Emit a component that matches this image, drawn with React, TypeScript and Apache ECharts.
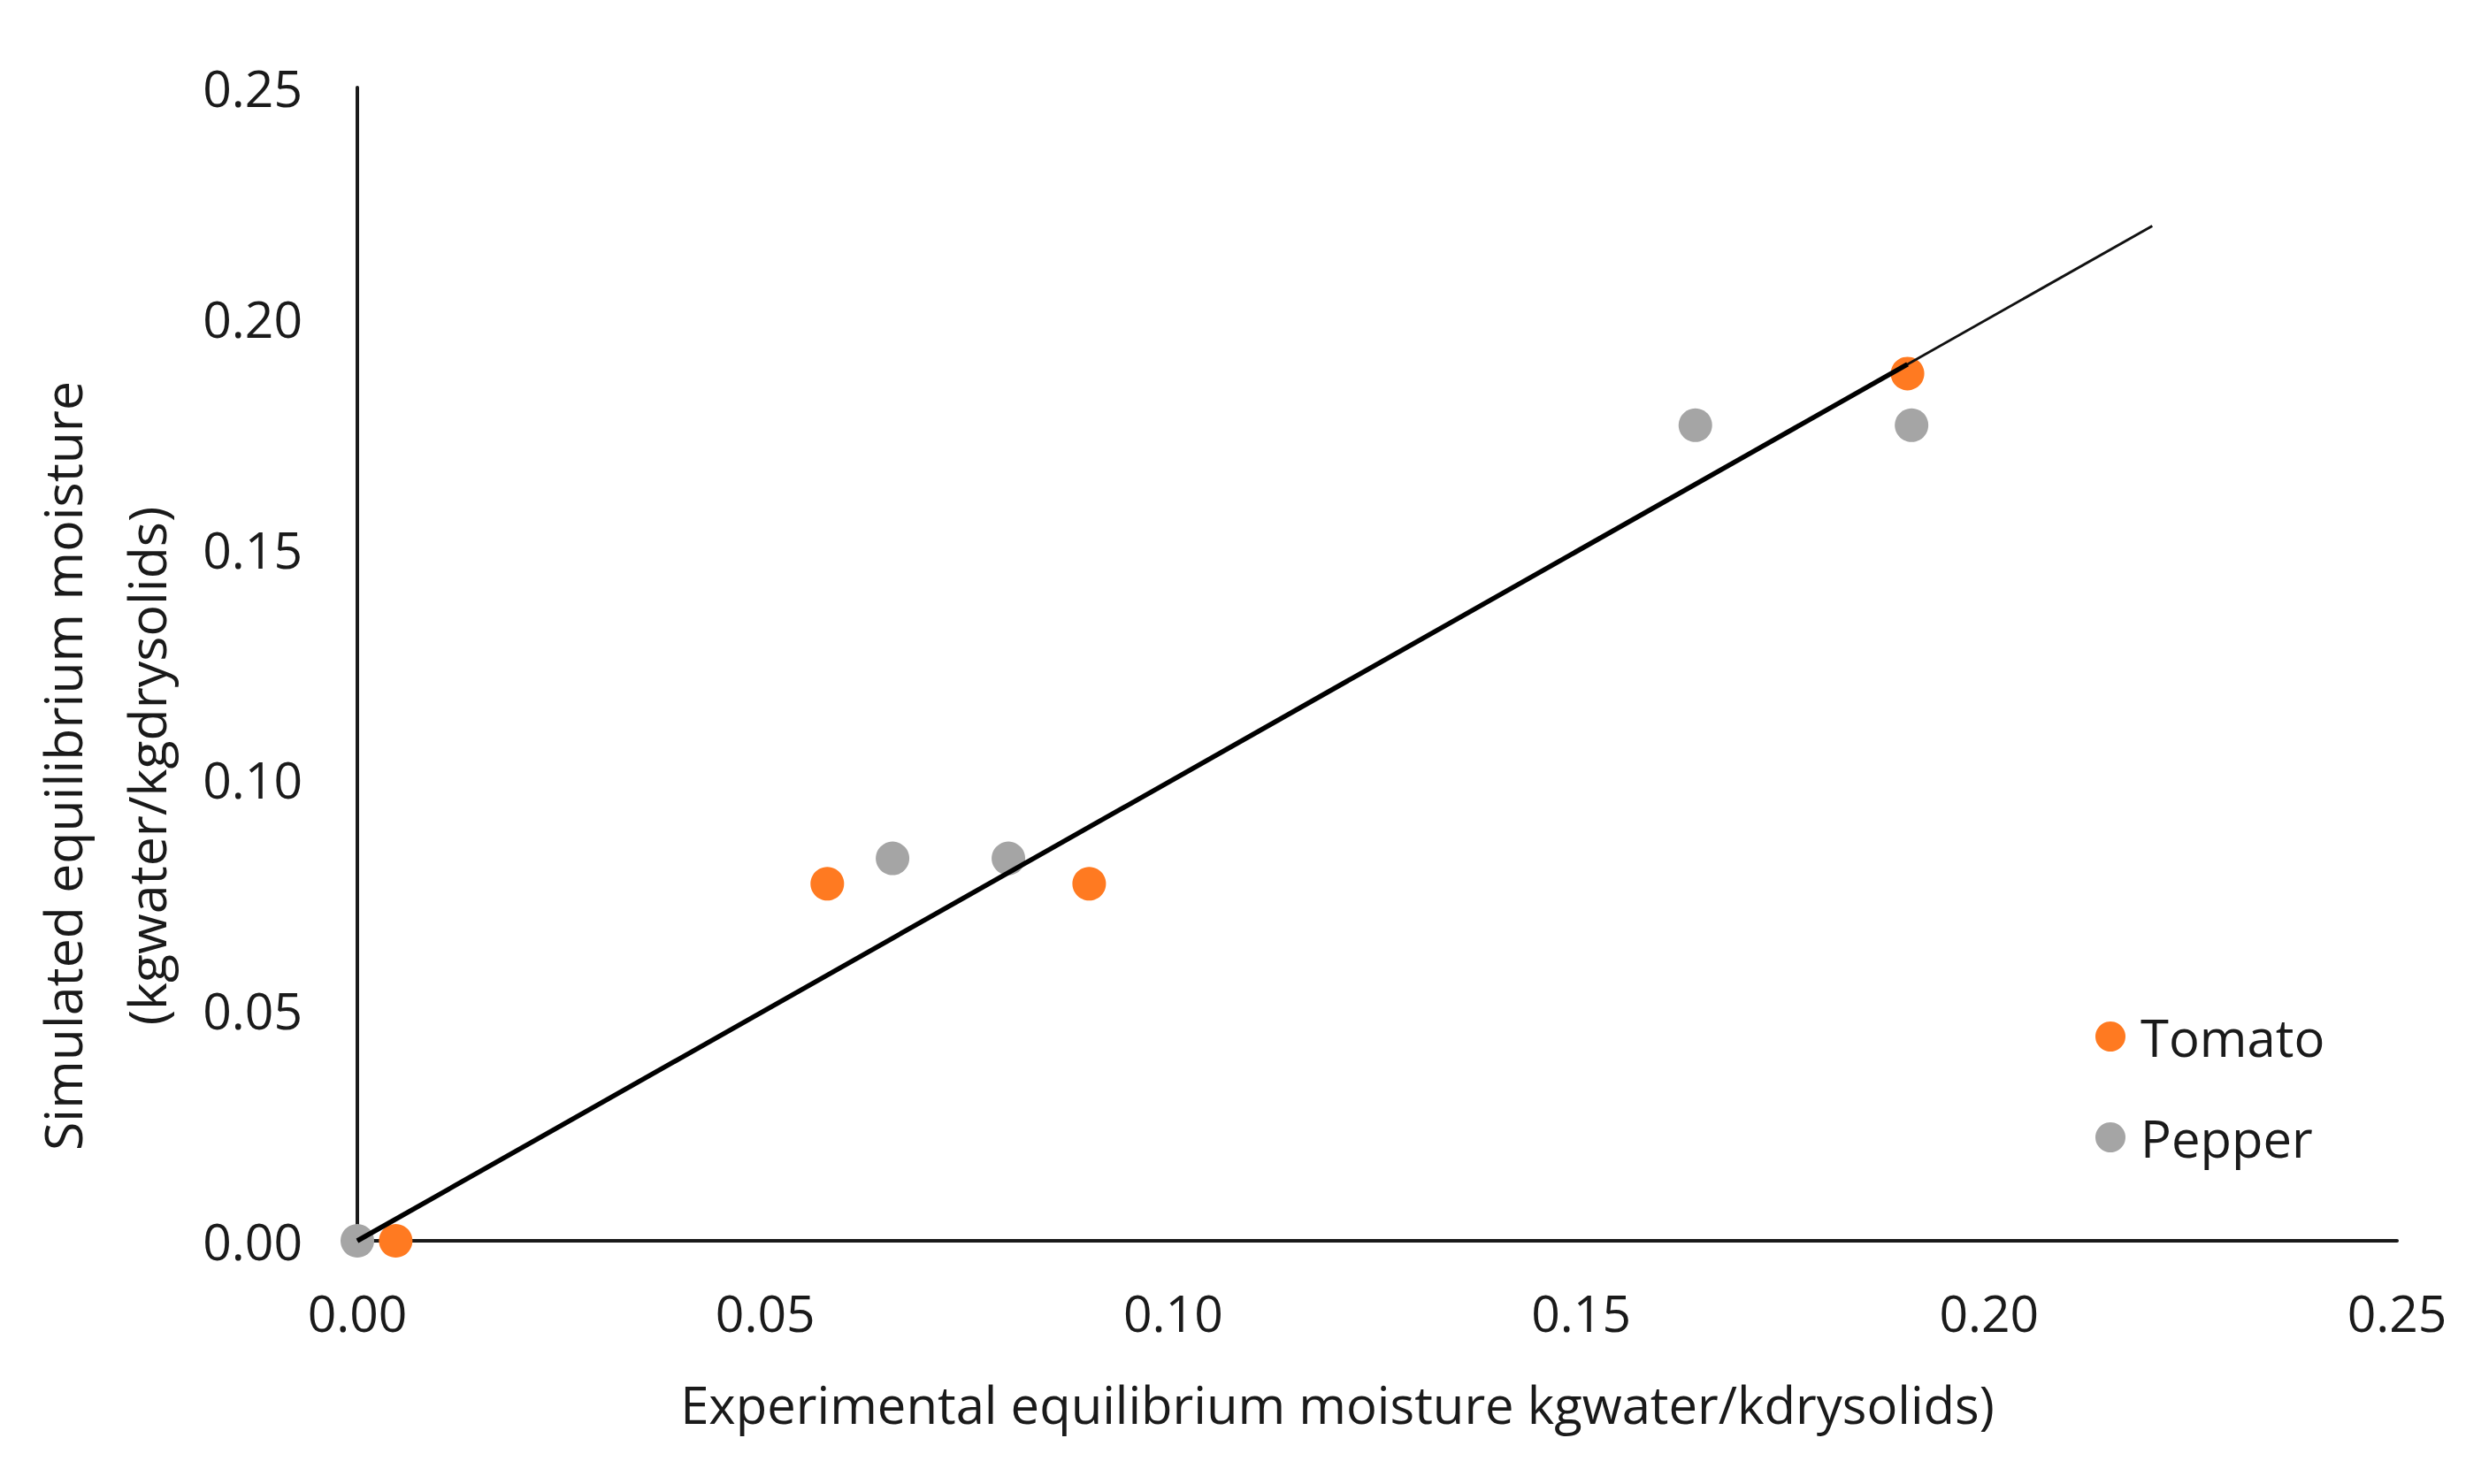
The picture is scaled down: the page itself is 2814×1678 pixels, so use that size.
import React, { useEffect, useRef } from "react";
import * as echarts from "echarts";

const tomatoX = [0.0047, 0.0576, 0.0897, 0.19];
const tomatoY = [0.0, 0.0774, 0.0774, 0.188];
const pepperX = [0.0, 0.0656, 0.0798, 0.164, 0.1905];
const pepperY = [0.0, 0.0829, 0.0829, 0.1768, 0.1768];
const oneToOneLine = [
  [0, 0],
  [0.22, 0.22],
];
const trendLine = [
  [0, 0],
  [0.19, 0.19],
];
const axisTicks = [0, 0.05, 0.1, 0.15, 0.2, 0.25];

const FONT = "Open Sans";
const TXT = "#1a1a1a";

export default function App() {
  const ref = useRef<HTMLDivElement>(null);
  useEffect(() => {
    if (!ref.current) return;
    const chart = echarts.init(ref.current, undefined, { renderer: "svg" });
    const pair = (xs: number[], ys: number[]) => xs.map((x, i) => [x, ys[i]]);
    chart.setOption({
      animation: false,
      backgroundColor: "#ffffff",
      textStyle: { fontFamily: FONT },
      grid: { left: 404, right: 104, top: 99, bottom: 275 },
      legend: {
        data: ["Tomato", "Pepper"],
        orient: "vertical",
        left: 2364,
        top: 1138,
        icon: "circle",
        itemWidth: 34,
        itemHeight: 34,
        itemGap: 56,
        textStyle: { fontSize: 58, color: TXT, fontFamily: FONT, padding: [0, 0, 0, 12] },
      },
      xAxis: {
        type: "value",
        min: axisTicks[0],
        max: axisTicks[axisTicks.length - 1],
        interval: 0.05,
        name: "Experimental equilibrium moisture kgwater/kdrysolids)",
        nameLocation: "middle",
        nameGap: 155,
        nameTextStyle: { fontSize: 58, color: TXT, fontFamily: FONT, padding: [0, 90, 0, 0] },
        axisLine: { lineStyle: { color: "#1a1a1a", width: 4 } },
        axisTick: { show: false },
        splitLine: { show: false },
        axisLabel: {
          fontSize: 57,
          color: TXT,
          margin: 52,
          formatter: (v: number) => v.toFixed(2),
        },
      },
      yAxis: {
        type: "value",
        min: axisTicks[0],
        max: axisTicks[axisTicks.length - 1],
        interval: 0.05,
        name: "Simulated equilibrium moisture\n(kgwater/kgdrysolids)",
        nameLocation: "middle",
        nameRotate: 90,
        nameGap: 192,
        nameTextStyle: {
          fontSize: 59,
          color: TXT,
          fontFamily: FONT,
          lineHeight: 95,
          padding: [0, 230, 0, 0],
        },
        axisLine: { lineStyle: { color: "#1a1a1a", width: 4 } },
        axisTick: { show: false },
        splitLine: { show: false },
        axisLabel: {
          fontSize: 57,
          color: TXT,
          margin: 62,
          formatter: (v: number) => v.toFixed(2),
        },
      },
      series: [
        {
          name: "Pepper",
          type: "scatter",
          data: pair(pepperX, pepperY),
          symbolSize: 38,
          clip: false,
          itemStyle: { color: "#A5A5A5", opacity: 1 },
        },
        {
          name: "1:1",
          type: "line",
          data: oneToOneLine,
          symbol: "none",
          lineStyle: { color: "#111111", width: 3 },
          clip: false,
        },
        {
          name: "Trend",
          type: "line",
          data: trendLine,
          symbol: "none",
          lineStyle: { color: "#000000", width: 5.5 },
          clip: false,
        },
        {
          name: "Tomato",
          type: "scatter",
          data: pair(tomatoX, tomatoY),
          symbolSize: 38,
          clip: false,
          itemStyle: { color: "#FF7A21", opacity: 1 },
        },
      ],
    });
    return () => chart.dispose();
  }, []);
  return (
    <div
      ref={ref}
      style={{ position: "fixed", left: 0, top: 0, width: 2814, height: 1678 }}
    />
  );
}
